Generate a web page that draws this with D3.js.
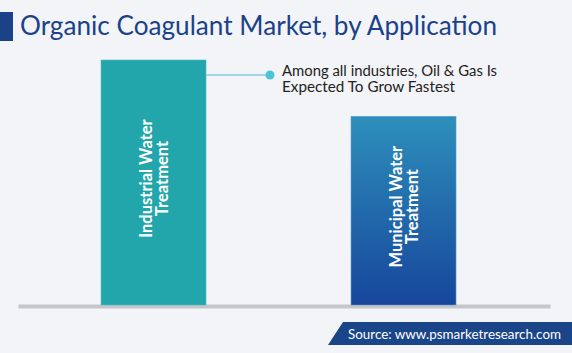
<!DOCTYPE html>
<html>
<head>
<meta charset="utf-8">
<script src="https://cdn.jsdelivr.net/npm/d3@7"></script>
<style>
  body { margin: 0; background: #f2f4f8; }
  svg { display: block; font-family: "Lato", "Open Sans", sans-serif; }
</style>
</head>
<body>
<svg id="chart"></svg>
<script>
// chart data
const categories = ["Industrial Water Treatment", "Municipal Water Treatment"];
const labelLines = [["Industrial Water", "Treatment"], ["Municipal Water", "Treatment"]];
const values = [100, 77];
const title = "Organic Coagulant Market, by Application";
const calloutLines = ["Among all industries, Oil & Gas Is", "Expected To Grow Fastest"];
const source = "Source: www.psmarketresearch.com";

const width = 572, height = 353;
const margin = {top: 60, right: 22, bottom: 48, left: 18};

const svg = d3.select("#chart")
    .attr("width", width)
    .attr("height", height);

svg.append("rect")
    .attr("width", width)
    .attr("height", height)
    .attr("fill", "#f2f4f8");

// gradient for the second bar
const defs = svg.append("defs");
const grad = defs.append("linearGradient")
    .attr("id", "blueGrad")
    .attr("x1", 0).attr("y1", 0).attr("x2", 0).attr("y2", 1);
grad.append("stop").attr("offset", "0%").attr("stop-color", "#2d8fbb");
grad.append("stop").attr("offset", "100%").attr("stop-color", "#17469b");

// title
svg.append("rect")
    .attr("x", 0).attr("y", 12)
    .attr("width", 13).attr("height", 29)
    .attr("fill", "#1b4289");

svg.append("text")
    .attr("x", 20).attr("y", 35)
    .attr("fill", "#1b4289")
    .attr("font-size", 26)
    .attr("textLength", 477)
    .attr("lengthAdjust", "spacingAndGlyphs")
    .text(title);

const plotW = width - margin.left - margin.right;
const plotH = height - margin.top - margin.bottom;

const g = svg.append("g")
    .attr("transform", "translate(" + margin.left + "," + margin.top + ")");

const x = d3.scaleBand()
    .domain(categories)
    .range([0, plotW])
    .paddingInner(0.58)
    .paddingOuter(0.354)
    .align(0.469);

const y = d3.scaleLinear()
    .domain([0, d3.max(values)])
    .range([plotH, 0]);

const data = categories.map((c, i) => ({category: c, value: values[i], lines: labelLines[i]}));

// baseline axis
const xAxis = d3.axisBottom(x).tickSize(0).tickFormat("");
const axisG = g.append("g")
    .attr("transform", "translate(0," + (plotH + 1) + ")")
    .call(xAxis);
axisG.select(".domain")
    .attr("stroke", "#c6c6c8")
    .attr("stroke-width", 4);

// bars
g.selectAll(".bar")
    .data(data)
    .enter().append("rect")
    .attr("class", "bar")
    .attr("x", d => x(d.category))
    .attr("width", x.bandwidth())
    .attr("y", d => y(d.value))
    .attr("height", d => plotH - y(d.value))
    .attr("fill", (d, i) => i === 0 ? "#22a6ab" : "url(#blueGrad)")
    .attr("stroke", (d, i) => i === 0 ? "#4fbcc0" : "#5a9cc8")
    .attr("stroke-width", 0.6);

// rotated bar labels
const label = g.selectAll(".bar-label")
    .data(data)
    .enter().append("text")
    .attr("class", "bar-label")
    .attr("transform", d => {
        const cx = x(d.category) + x.bandwidth() / 2;
        const cy = (y(d.value) + plotH) / 2 - 4;
        return "translate(" + cx + "," + cy + ") rotate(-90)";
    })
    .attr("text-anchor", "middle")
    .attr("fill", "#ffffff")
    .attr("font-size", 16.5)
    .attr("font-weight", 700);

label.selectAll("tspan")
    .data(d => d.lines)
    .enter().append("tspan")
    .attr("x", 0)
    .attr("dy", (d, i) => i === 0 ? "-0.12em" : "1.0em")
    .text(d => d);

// callout from first bar
const first = data[0];
const calloutY = y(first.value) + 15;
const barRight = x(first.category) + x.bandwidth();
g.append("line")
    .attr("x1", barRight).attr("y1", calloutY)
    .attr("x2", 252).attr("y2", calloutY)
    .attr("stroke", "#84d1df")
    .attr("stroke-width", 1.5);
g.append("circle")
    .attr("cx", 252).attr("cy", calloutY)
    .attr("r", 4.5)
    .attr("fill", "#4cc3d8");

const calloutLens = [215, 173];
const callout = g.append("g")
    .attr("fill", "#222222")
    .attr("font-size", 14.5);
callout.selectAll("text")
    .data(calloutLines)
    .enter().append("text")
    .attr("x", 264)
    .attr("y", (d, i) => calloutY + 1 + i * 16)
    .attr("textLength", (d, i) => calloutLens[i])
    .attr("lengthAdjust", "spacingAndGlyphs")
    .text(d => d);

// source banner
svg.append("path")
    .attr("d", "M343,322 L572,322 L572,345 L328,345 Z")
    .attr("fill", "#1b4589");
svg.append("text")
    .attr("x", 348).attr("y", 339)
    .attr("fill", "#ffffff")
    .attr("font-size", 14)
    .attr("textLength", 213)
    .attr("lengthAdjust", "spacingAndGlyphs")
    .text(source);
</script>
</body>
</html>
